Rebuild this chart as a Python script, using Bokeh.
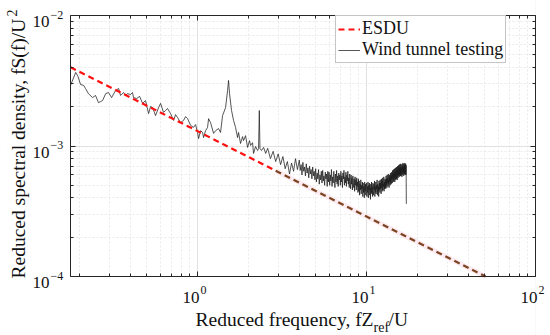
import math
from bokeh.plotting import figure
from bokeh.models import (LogAxis, FixedTicker, Label, Legend, LegendItem,
                          CustomJSTickFormatter)
from bokeh.embed import file_html
from bokeh.resources import INLINE

# ---------------- data ----------------
x_lim = (0.177, 100.0)
y_lim = (1e-4, 1e-2)

x_tick_vals = [1.0, 10.0, 100.0]
x_tick_exps = ["0", "1", "2"]
y_tick_vals = [1e-4, 1e-3, 1e-2]
y_tick_exps = ["\u22124", "\u22123", "\u22122"]

# ESDU spectrum (red dashed)
esdu_x = [0.177, 1.0, 2.9, 10.0, 50.6]
esdu_y = [4.01e-3, 1.30e-3, 6.46e-4, 2.88e-4, 1.0e-4]

# Wind tunnel testing - low frequency part
wt_x_low = [0.177, 0.190, 0.196, 0.203, 0.212, 0.217, 0.226, 0.239, 0.249, 0.259,
            0.267, 0.274, 0.286, 0.297, 0.310, 0.327, 0.341, 0.350, 0.365, 0.375,
            0.385, 0.401, 0.412, 0.418, 0.436, 0.454, 0.473, 0.492, 0.513, 0.527,
            0.542, 0.564, 0.588, 0.604, 0.629, 0.647, 0.664, 0.692, 0.721, 0.741,
            0.762, 0.793, 0.826, 0.849, 0.873, 0.909, 0.947, 0.973, 1.000, 1.014,
            1.042, 1.071, 1.085, 1.115, 1.146, 1.162, 1.194, 1.244, 1.278, 1.331,
            1.368, 1.406, 1.465, 1.505, 1.525, 1.546, 1.589, 1.633, 1.678, 1.725,
            1.748, 1.796, 1.846, 1.872, 1.923, 1.977, 2.03, 2.06, 2.115, 2.145,
            2.204, 2.265, 2.296, 2.32, 2.34, 2.39, 2.46, 2.53]
wt_y_low = [2.91e-3, 3.66e-3, 3.41e-3, 2.96e-3, 2.91e-3, 2.76e-3, 2.52e-3, 2.35e-3, 2.44e-3, 2.15e-3,
            2.19e-3, 2.23e-3, 2.52e-3, 2.57e-3, 2.35e-3, 2.66e-3, 2.76e-3, 2.44e-3, 2.57e-3, 2.44e-3,
            2.52e-3, 2.48e-3, 2.57e-3, 2.35e-3, 2.31e-3, 2.40e-3, 2.12e-3, 2.23e-3, 1.77e-3, 2.01e-3,
            1.97e-3, 1.71e-3, 1.97e-3, 2.12e-3, 1.81e-3, 1.87e-3, 1.94e-3, 1.77e-3, 1.57e-3, 1.74e-3,
            1.65e-3, 1.51e-3, 1.57e-3, 1.68e-3, 1.62e-3, 1.44e-3, 1.39e-3, 1.46e-3, 1.27e-3, 1.14e-3,
            1.31e-3, 1.27e-3, 1.16e-3, 1.31e-3, 1.39e-3, 1.62e-3, 1.51e-3, 1.25e-3, 1.31e-3, 1.36e-3,
            1.27e-3, 1.71e-3, 1.97e-3, 2.66e-3, 3.18e-3, 2.52e-3, 1.87e-3, 1.57e-3, 1.39e-3, 1.16e-3,
            1.27e-3, 1.045e-3, 1.18e-3, 1.10e-3, 1.20e-3, 9.75e-4, 1.10e-3, 1.01e-3, 1.06e-3, 8.77e-4,
            9.91e-4, 9.24e-4, 9.57e-4, 1.87e-3, 9.57e-4, 9.24e-4, 9.75e-4, 8.77e-4]

# Wind tunnel testing - mid frequency part (2.6 - 3.9)
wt_x_mid = [2.6, 2.7, 2.8, 2.9, 3.0, 3.1, 3.2, 3.3, 3.4, 3.5, 3.6, 3.7, 3.8, 3.9]
wt_y_mid = [9.6e-4, 8.0e-4, 9.1e-4, 7.6e-4, 8.7e-4, 7.2e-4, 8.3e-4, 6.7e-4, 7.6e-4, 6.1e-4,
            7.4e-4, 6.4e-4, 8.0e-4, 6.6e-4]

# Wind tunnel testing - high frequency (dense) part (4.0 - 17.2)
wt_x_high = [4.0, 4.05, 4.1, 4.15, 4.2, 4.25, 4.3, 4.35, 4.4, 4.45,
             4.5, 4.55, 4.6, 4.65, 4.7, 4.75, 4.8, 4.85, 4.9, 4.95,
             5.0, 5.05, 5.1, 5.15, 5.2, 5.25, 5.3, 5.35, 5.4, 5.45,
             5.5, 5.55, 5.6, 5.65, 5.7, 5.75, 5.8, 5.85, 5.9, 5.95,
             6.0, 6.05, 6.1, 6.15, 6.2, 6.25, 6.3, 6.35, 6.4, 6.45,
             6.5, 6.55, 6.6, 6.65, 6.7, 6.75, 6.8, 6.85, 6.9, 6.95,
             7.0, 7.05, 7.1, 7.15, 7.2, 7.25, 7.3, 7.35, 7.4, 7.45,
             7.5, 7.55, 7.6, 7.65, 7.7, 7.75, 7.8, 7.85, 7.9, 7.95,
             8.0, 8.05, 8.1, 8.15, 8.2, 8.25, 8.3, 8.35, 8.4, 8.45,
             8.5, 8.55, 8.6, 8.65, 8.7, 8.75, 8.8, 8.85, 8.9, 8.95,
             9.0, 9.05, 9.1, 9.15, 9.2, 9.25, 9.3, 9.35, 9.4, 9.45,
             9.5, 9.55, 9.6, 9.65, 9.7, 9.75, 9.8, 9.85, 9.9, 9.95,
             10.0, 10.05, 10.1, 10.15, 10.2, 10.25, 10.3, 10.35, 10.4, 10.45,
             10.5, 10.55, 10.6, 10.65, 10.7, 10.75, 10.8, 10.85, 10.9, 10.95,
             11.0, 11.05, 11.1, 11.15, 11.2, 11.25, 11.3, 11.35, 11.4, 11.45,
             11.5, 11.55, 11.6, 11.65, 11.7, 11.75, 11.8, 11.85, 11.9, 11.95,
             12.0, 12.05, 12.1, 12.15, 12.2, 12.25, 12.3, 12.35, 12.4, 12.45,
             12.5, 12.55, 12.6, 12.65, 12.7, 12.75, 12.8, 12.85, 12.9, 12.95,
             13.0, 13.05, 13.1, 13.15, 13.2, 13.25, 13.3, 13.35, 13.4, 13.45,
             13.5, 13.55, 13.6, 13.65, 13.7, 13.75, 13.8, 13.85, 13.9, 13.95,
             14.0, 14.05, 14.1, 14.15, 14.2, 14.25, 14.3, 14.35, 14.4, 14.45,
             14.5, 14.55, 14.6, 14.65, 14.7, 14.75, 14.8, 14.85, 14.9, 14.95,
             15.0, 15.05, 15.1, 15.15, 15.2, 15.25, 15.3, 15.35, 15.4, 15.45,
             15.5, 15.55, 15.6, 15.65, 15.7, 15.75, 15.8, 15.85, 15.9, 15.95,
             16.0, 16.05, 16.1, 16.15, 16.2, 16.25, 16.3, 16.35, 16.4, 16.45,
             16.5, 16.55, 16.6, 16.65, 16.7, 16.75, 16.8, 16.85, 16.9, 16.95,
             17.0, 17.05, 17.1, 17.15, 17.2]
wt_y_high = [7.8e-4, 6.5e-4, 7.2e-4, 6.0e-4, 7.5e-4, 6.4e-4, 6.9e-4, 5.9e-4, 7.3e-4, 6.2e-4,
             6.8e-4, 5.7e-4, 7.0e-4, 6.1e-4, 6.6e-4, 5.6e-4, 6.9e-4, 5.9e-4, 6.4e-4, 5.5e-4,
             6.7e-4, 5.3e-4, 6.2e-4, 5.6e-4, 6.6e-4, 5.1e-4, 6.0e-4, 5.5e-4, 6.4e-4, 5.2e-4,
             6.5e-4, 5.4e-4, 5.9e-4, 5.0e-4, 6.3e-4, 5.6e-4, 6.1e-4, 4.9e-4, 6.4e-4, 5.3e-4,
             6.3e-4, 5.0e-4, 6.0e-4, 5.4e-4, 6.6e-4, 4.9e-4, 5.8e-4, 5.2e-4, 6.4e-4, 5.6e-4,
             4.8e-4, 6.1e-4, 5.3e-4, 6.5e-4, 5.1e-4, 5.9e-4, 4.9e-4, 6.2e-4, 5.5e-4, 6.0e-4,
             5.0e-4, 6.4e-4, 5.3e-4, 5.9e-4, 4.8e-4, 6.2e-4, 5.6e-4, 6.5e-4, 5.0e-4, 5.8e-4,
             5.2e-4, 6.3e-4, 4.9e-4, 6.0e-4, 5.4e-4, 6.4e-4, 5.1e-4, 5.7e-4, 4.8e-4, 6.1e-4,
             5.4e-4, 4.7e-4, 6.0e-4, 5.1e-4, 5.7e-4, 4.6e-4, 5.9e-4, 5.2e-4, 4.8e-4, 5.6e-4,
             4.5e-4, 5.8e-4, 5.0e-4, 5.5e-4, 4.6e-4, 5.7e-4, 4.9e-4, 5.3e-4, 4.4e-4, 5.6e-4,
             4.5e-4, 5.4e-4, 4.2e-4, 5.1e-4, 4.6e-4, 5.5e-4, 4.3e-4, 5.0e-4, 4.7e-4, 5.3e-4,
             4.1e-4, 5.2e-4, 4.4e-4, 4.9e-4, 4.0e-4, 5.3e-4, 4.5e-4, 5.1e-4, 4.2e-4, 4.8e-4,
             5.2e-4, 4.1e-4, 4.9e-4, 4.4e-4, 5.3e-4, 4.0e-4, 5.0e-4, 4.6e-4, 5.2e-4, 4.2e-4,
             4.8e-4, 3.9e-4, 5.1e-4, 4.4e-4, 5.3e-4, 4.3e-4, 4.9e-4, 4.1e-4, 5.2e-4, 4.5e-4,
             4.2e-4, 5.1e-4, 4.6e-4, 5.4e-4, 4.1e-4, 4.9e-4, 4.4e-4, 5.3e-4, 4.3e-4, 5.0e-4,
             4.7e-4, 5.5e-4, 4.2e-4, 5.1e-4, 4.5e-4, 4.9e-4, 4.1e-4, 5.4e-4, 4.6e-4, 5.2e-4,
             4.4e-4, 5.5e-4, 4.7e-4, 5.2e-4, 4.3e-4, 5.6e-4, 4.8e-4, 5.4e-4, 4.5e-4, 5.7e-4,
             4.6e-4, 5.1e-4, 4.9e-4, 5.8e-4, 4.5e-4, 5.3e-4, 4.7e-4, 5.6e-4, 4.8e-4, 5.5e-4,
             4.7e-4, 5.9e-4, 5.0e-4, 5.6e-4, 4.8e-4, 6.0e-4, 5.2e-4, 5.7e-4, 4.9e-4, 6.1e-4,
             5.1e-4, 5.5e-4, 4.8e-4, 6.0e-4, 5.3e-4, 5.8e-4, 5.0e-4, 6.2e-4, 5.2e-4, 5.9e-4,
             5.1e-4, 6.3e-4, 5.5e-4, 6.0e-4, 5.2e-4, 6.5e-4, 5.6e-4, 6.2e-4, 5.3e-4, 6.6e-4,
             5.4e-4, 6.1e-4, 5.7e-4, 6.7e-4, 5.3e-4, 6.4e-4, 5.6e-4, 6.8e-4, 5.5e-4, 6.3e-4,
             5.6e-4, 6.9e-4, 5.8e-4, 6.5e-4, 5.5e-4, 7.0e-4, 6.0e-4, 6.6e-4, 5.7e-4, 7.1e-4,
             5.9e-4, 6.7e-4, 6.1e-4, 7.2e-4, 5.8e-4, 6.8e-4, 6.0e-4, 7.3e-4, 5.9e-4, 6.9e-4,
             5.9e-4, 7.2e-4, 6.1e-4, 6.8e-4, 5.8e-4, 7.3e-4, 6.3e-4, 7.0e-4, 6.0e-4, 7.4e-4,
             6.2e-4, 6.9e-4, 5.9e-4, 7.3e-4, 6.4e-4, 7.1e-4, 6.1e-4, 7.4e-4, 6.0e-4, 7.2e-4,
             6.2e-4, 7.3e-4, 6.0e-4, 7.1e-4, 3.6e-4]

wt_x = wt_x_low + wt_x_mid + wt_x_high
wt_y = wt_y_low + wt_y_mid + wt_y_high

# ---------------- layout (screen px of the axes box) ----------------
W, H = 550, 335
BOX_L, BOX_R, BOX_T, BOX_B = 70, 535, 15, 276
lx0, lx1 = math.log10(x_lim[0]), math.log10(x_lim[1])
ly0, ly1 = math.log10(y_lim[0]), math.log10(y_lim[1])
dxp = (lx1 - lx0) / (BOX_R - BOX_L)
dyp = (ly1 - ly0) / (BOX_B - BOX_T)
x_view = (10 ** (lx0 - BOX_L * dxp), 10 ** (lx1 + (W - BOX_R) * dxp))
y_view = (10 ** (ly0 - (H - BOX_B) * dyp), 10 ** (ly1 + BOX_T * dyp))

SERIF = "Liberation Serif"
AX = "#262626"

p = figure(x_axis_type="log", y_axis_type="log",
           x_range=x_view, y_range=y_view,
           width=W, height=H, min_border=0,
           output_backend="svg", toolbar_location=None,
           background_fill_color="white", border_fill_color="white",
           outline_line_color=None)

x_minor = [m * 10.0 ** k for k in (-1, 0, 1) for m in range(2, 10)]
y_minor = [m * 10.0 ** k for k in (-4, -3) for m in range(2, 10)]
xticker = FixedTicker(ticks=x_tick_vals, minor_ticks=x_minor)
yticker = FixedTicker(ticks=y_tick_vals, minor_ticks=y_minor)
blank = CustomJSTickFormatter(code="return ''")


def style_axis(ax, loc, bounds):
    ax.formatter = blank
    ax.fixed_location = loc
    ax.bounds = bounds
    ax.major_label_text_font_size = "0px"
    ax.major_label_standoff = 0
    ax.axis_line_color = AX
    ax.axis_line_width = 1
    ax.major_tick_line_color = AX
    ax.minor_tick_line_color = AX
    ax.major_tick_in = 5
    ax.major_tick_out = 0
    ax.minor_tick_in = 3
    ax.minor_tick_out = 0


p.xaxis[0].ticker = xticker
p.yaxis[0].ticker = yticker
style_axis(p.xaxis[0], y_lim[0], x_lim)
style_axis(p.yaxis[0], x_lim[0], y_lim)

top_ax = LogAxis(ticker=xticker)
right_ax = LogAxis(ticker=yticker)
style_axis(top_ax, y_lim[1], x_lim)
style_axis(right_ax, x_lim[1], y_lim)
p.add_layout(top_ax, "above")
p.add_layout(right_ax, "right")

for g in (p.xgrid[0], p.ygrid[0]):
    g.grid_line_color = "#d9d9d9"
    g.grid_line_width = 0.8
    g.minor_grid_line_color = "#e4e4e4"
    g.minor_grid_line_width = 0.8
    g.minor_grid_line_dash = "2 2"
p.xgrid[0].ticker = xticker
p.ygrid[0].ticker = yticker

# white masks so that the grid stays inside the axes box
p.quad(left=[x_view[0], x_lim[1], x_lim[0], x_lim[0]],
       right=[x_lim[0], x_view[1], x_lim[1], x_lim[1]],
       bottom=[y_view[0], y_view[0], y_view[0], y_lim[1]],
       top=[y_view[1], y_view[1], y_lim[0], y_view[1]],
       fill_color="white", line_color=None)

# ---------------- data glyphs ----------------
r_wt = p.line(wt_x, wt_y, line_color="#1e1e1e", line_width=0.75)
r_esdu = p.line(esdu_x[:3], esdu_y[:3], line_color="#ff1010", line_width=2.2,
                line_dash="6 4")
p.line(esdu_x[2:], esdu_y[2:], line_color="#fcebf1", line_width=5)
p.line(esdu_x[2:], esdu_y[2:], line_color="#7c4420", line_width=2.2,
       line_dash="6 4")

legend = Legend(items=[LegendItem(label="ESDU", renderers=[r_esdu]),
                       LegendItem(label="Wind tunnel testing", renderers=[r_wt])],
                location=(335, 272),
                label_text_font=SERIF, label_text_font_size="18px",
                label_text_color="#111111",
                padding=2, spacing=0, margin=0,
                glyph_height=20, glyph_width=22, label_height=20,
                label_standoff=2,
                border_line_color="#8c8c8c", border_line_width=1,
                background_fill_color="white", background_fill_alpha=1)
p.add_layout(legend)

# ---------------- texts ----------------
TXT = "#111111"


def lab(x, y, text, xo, yo, size, align="left", angle=0.0):
    p.add_layout(Label(x=x, y=y, x_offset=xo, y_offset=yo, text=text,
                       text_font=SERIF, text_font_size=size,
                       text_align=align, text_baseline="alphabetic",
                       angle=angle, text_color=TXT))


# x tick labels 10^k
for v, e in zip(x_tick_vals, x_tick_exps):
    lab(v, y_lim[0], "10", 2, -21, "17px", "right")
    lab(v, y_lim[0], e, 3, -13, "12px", "left")

# y tick labels 10^k
for v, e in zip(y_tick_vals, y_tick_exps):
    lab(x_lim[0], v, "10", -21, -6, "17px", "right")
    lab(x_lim[0], v, e, -20, 1, "12px", "left")

# x axis label: Reduced frequency, fZ_ref/U
lab(10.0, y_lim[0], "Reduced frequency, fZ", 7, -43, "19.5px", "right")
lab(10.0, y_lim[0], "ref", 7, -51, "14px", "left")
lab(10.0, y_lim[0], "/U", 22, -43, "19.5px", "left")

# y axis label: Reduced spectral density, fS(f)/U^2
lab(x_lim[0], y_lim[0], "Reduced spectral density, fS(f)/U", -52, -2, "19.5px",
    "left", math.pi / 2)
lab(x_lim[0], y_lim[0], "2", -59, 260, "14px", "left", math.pi / 2)

open("out.html", "w").write(file_html(p, INLINE))
